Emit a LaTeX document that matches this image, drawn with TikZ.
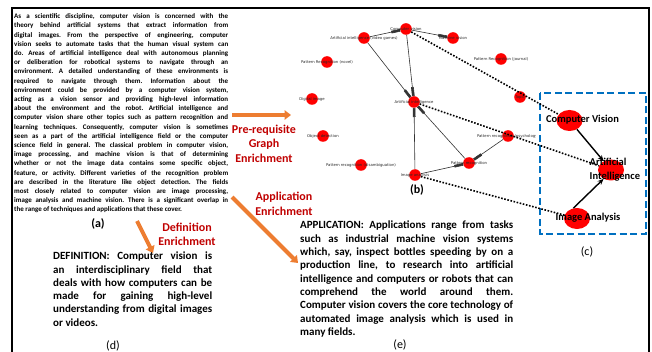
\documentclass[tikz,border=0pt]{standalone}
\usepackage{fontspec}
\setmainfont{Carlito}
\newfontfamily\graphfont{DejaVu Sans}
\usetikzlibrary{arrows.meta,shapes.geometric}
\definecolor{enrich}{HTML}{C00000}
\definecolor{arrowor}{HTML}{ED7D31}
\definecolor{boxblue}{HTML}{0070C0}
\definecolor{nodered}{HTML}{FF0000}
\hyphenpenalty=10000
\exhyphenpenalty=10000
\frenchspacing
% justified block of bold text: width, font size, line distance, text
\newcommand{\justpara}[4]{\vbox{\hsize=#1\relax
  \fontsize{#2}{#3}\selectfont\bfseries
  \baselineskip=#3pt\relax\lineskiplimit=-5pt\relax
  \parindent=0pt\leftskip=0pt\rightskip=0pt\parfillskip=0pt plus 1fil\relax
  \tolerance=10000\relax
  \noindent#4\par}}
\tikzset{
  gnode/.style={circle,fill=nodered,minimum size=11.6pt,inner sep=0pt},
  glabel/.style={font=\graphfont\fontsize{3.8}{4}\selectfont,text=black!85,inner sep=0pt},
  gedge/.style={draw=black!80,line width=0.6pt,-{Rectangle[length=9pt,width=2.6pt]}},
  link/.style={line width=1.6pt,dash pattern=on 1.6pt off 1.6pt},
  cnode/.style={ellipse,fill=nodered,minimum width=26pt,minimum height=21pt,inner sep=0pt},
  ctext/.style={font=\fontsize{10.5}{14}\selectfont\bfseries,inner sep=0pt},
  carrow/.style={line width=1.4pt,-{Stealth[length=6pt,width=5pt]}},
  bigarrow/.style={draw=arrowor,line width=4pt,-{Triangle[length=6.5pt,width=9.5pt]}},
  enrichtext/.style={text=enrich,font=\fontsize{12}{14.5}\selectfont\bfseries,align=center,inner sep=0pt},
  caption/.style={font=\fontsize{12}{14}\selectfont,inner sep=0pt},
  bodytext/.style={inner sep=0pt,anchor=north west},
}
\begin{document}
\begin{tikzpicture}[x=1pt,y=-1pt]
\useasboundingbox (0,0) rectangle (652,352);

% frame
\draw[line width=1.5pt] (12,352) -- (12,8) -- (649,8) -- (649,352);
\draw[line width=2.6pt] (12,8) -- (649,8);

% (a) source paragraph
\node[bodytext] (para) at (14,13.5) {\justpara{214pt}{7}{9.2}{%
As a scientific discipline, computer vision is concerned with the\linebreak
theory behind artificial systems that extract information from\linebreak
digital images. From the perspective of engineering, computer\linebreak
vision seeks to automate tasks that the human visual system can\linebreak
do. Areas of artificial intelligence deal with autonomous planning\linebreak
or deliberation for robotical systems to navigate through an\linebreak
environment. A detailed understanding of these environments is\linebreak
required to navigate through them. Information about the\linebreak
environment could be provided by a computer vision system,\linebreak
acting as a vision sensor and providing high-level information\linebreak
about the environment and the robot. Artificial intelligence and\linebreak
computer vision share other topics such as pattern recognition and\linebreak
learning techniques. Consequently, computer vision is sometimes\linebreak
seen as a part of the artificial intelligence field or the computer\linebreak
science field in general. The classical problem in computer vision,\linebreak
image processing, and machine vision is that of determining\linebreak
whether or not the image data contains some specific object,\linebreak
feature, or activity. Different varieties of the recognition problem\linebreak
are described in the literature like object detection. The fields\linebreak
most closely related to computer vision are image processing,\linebreak
image analysis and machine vision. There is a significant overlap in\linebreak
the range of techniques and applications that these cover.}};
\node[caption,font=\fontsize{12}{14}\selectfont\bfseries] (capa) at (98,224) {(a)};

% enrichment arrows and their labels
\coordinate (preT) at (232,115);
\coordinate (preH) at (291,115);
\draw[bigarrow] (preT) -- (preH);
\node[enrichtext] (preL) at (264,143.5) {Pre-requisite\\Graph\\Enrichment};

\coordinate (appT) at (232,197);
\coordinate (appH) at (298,263);
\draw[bigarrow] (appT) -- (appH);
\node[enrichtext] (appL) at (284,204) {Application\\Enrichment};

\coordinate (defT) at (137,221);
\coordinate (defH) at (153,253);
\draw[bigarrow] (defT) -- (defH);
\node[enrichtext] (defL) at (187,234.5) {Definition\\Enrichment};

% (b) concept graph
\node[gnode] (cv) at (406,29) {};
\node[gnode] (aivg) at (364,38) {};
\node[gnode] (mv) at (453,38) {};
\node[gnode] (prn) at (327,62) {};
\node[gnode] (prj) at (501,59) {};
\node[gnode] (di) at (312,99) {};
\node[gnode] (topic) at (520,97) {};
\node[gnode] (ai) at (414,102) {};
\node[gnode] (od) at (323,136) {};
\node[gnode] (prp) at (508,136) {};
\node[gnode] (prd) at (361,165) {};
\node[gnode] (pr) at (469,163) {};
\node[gnode] (ia) at (415,175) {};

\draw[gedge] (aivg) -- (cv);
\draw[gedge] (cv) -- (mv);
\draw[gedge] (aivg) -- (ai);
\draw[gedge] (cv) -- (ai);
\draw[gedge] (ia) -- (ai);
\draw[gedge] (pr) -- (ai);
\draw[gedge] (ia) -- (pr);
\draw[gedge] (prp) -- (pr);

\node[glabel] (cvL) at (cv) {Computer vision};
\node[glabel] (aivgL) at (aivg) {Artificial intelligence (video games)};
\node[glabel] (mvL) at (mv) {Machine vision};
\node[glabel] (prnL) at (prn) {Pattern Recognition (novel)};
\node[glabel] (prjL) at (prj) {Pattern Recognition (journal)};
\node[glabel] (diL) at (di) {Digital image};
\node[glabel] (topicL) at (topic) {Topic};
\node[glabel] (aiL) at (ai) {Artificial intelligence};
\node[glabel] (odL) at (od) {Object detection};
\begin{scope}
  \clip (440,120) rectangle (535,150);
  \node[glabel] (prpL) at (prp) {Pattern recognition (psychology)};
\end{scope}
\node[glabel] (prdL) at (prd) {Pattern recognition (disambiguation)};
\node[glabel] (prL) at (pr) {Pattern recognition};
\node[glabel] (iaL) at (ia) {Image analysis};
\node[caption,font=\fontsize{12}{14}\selectfont\bfseries] (capb) at (417,190) {(b)};

% (c) enriched subgraph
\draw[boxblue,line width=2.5pt,dash pattern=on 7pt off 3.5pt] (540,93) rectangle (646,234);
\node[cnode] (cvE) at (569.5,120.5) {};
\node[cnode] (aiE) at (611,170) {};
\node[cnode] (iaE) at (577,218.5) {};

\draw[link] (cv) -- (cvE);
\draw[link] (ai) -- (aiE);
\draw[link] (ia) -- (iaE);

\draw[carrow] (cvE) -- (aiE);
\draw[carrow] (iaE.110) -- (aiE.230);

\node[ctext] (cvT) at (582.5,120) {Computer Vision};
\node[ctext,align=left,anchor=west] (aiT) at (589.5,170) {Artificial\\Intelligence};
\node[ctext] (iaT) at (588,218) {Image Analysis};
\node[caption] (capc) at (587,252) {(c)};

% (d) definition text
\node[bodytext] (defText) at (53,252) {\justpara{159pt}{11}{13.25}{%
DEFINITION: Computer vision is\linebreak
an interdisciplinary field that\linebreak
deals with how computers can be\linebreak
made for gaining high-level\linebreak
understanding from digital images\linebreak
or videos.}};
\node[caption] (capd) at (113,346) {(d)};

% (e) application text
\node[bodytext] (appText) at (300,221) {\justpara{213pt}{11}{13.3}{%
APPLICATION: Applications range from tasks\linebreak
such as industrial machine vision systems\linebreak
which, say, inspect bottles speeding by on a\linebreak
production line, to research into artificial\linebreak
intelligence and computers or robots that can\linebreak
comprehend the world around them.\linebreak
Computer vision covers the core technology of\linebreak
automated image analysis which is used in\linebreak
many fields.}};
\node[caption] (cape) at (400,345) {(e)};
\end{tikzpicture}
\end{document}
